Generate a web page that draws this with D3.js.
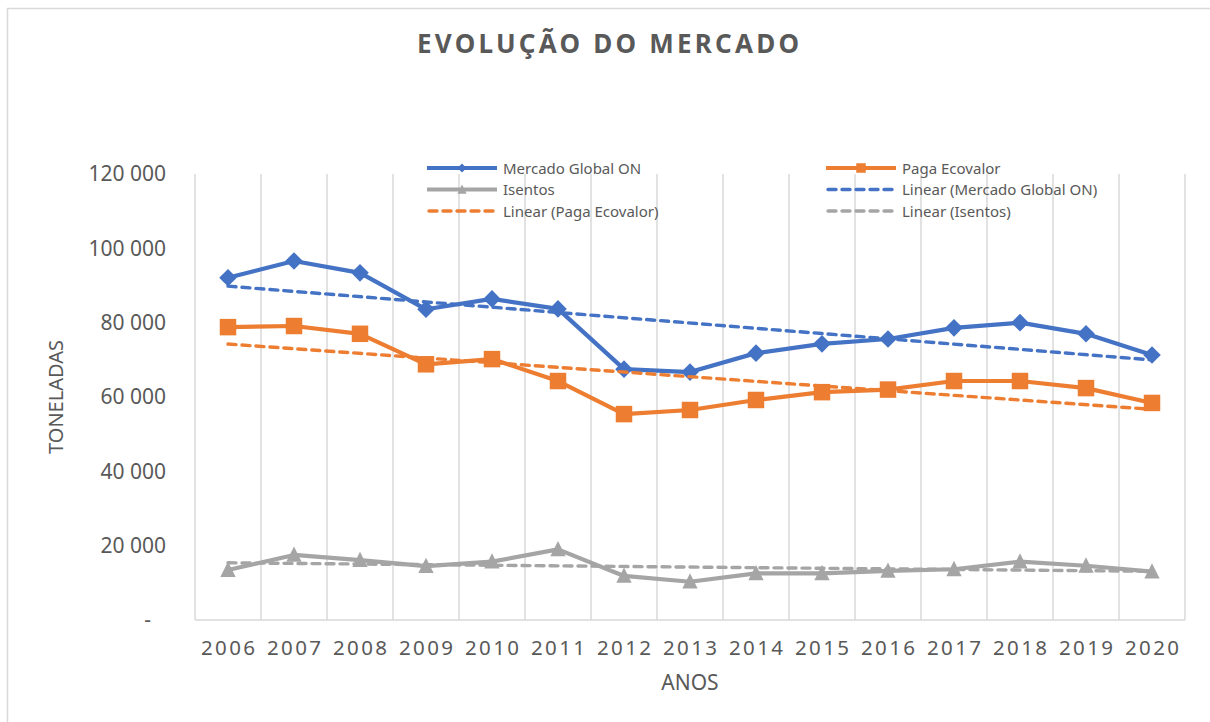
<!DOCTYPE html>
<html>
<head>
<meta charset="utf-8">
<script src="https://cdn.jsdelivr.net/npm/d3@7"></script>
<style>
  html, body { margin: 0; padding: 0; background: #fff; }
  svg { display: block; }
  text { font-family: "Noto Sans", "Open Sans", sans-serif; fill: #595959; }
</style>
</head>
<body>
<script>
// ---- data ----
const years = ["2006","2007","2008","2009","2010","2011","2012","2013","2014","2015","2016","2017","2018","2019","2020"];
const mercadoGlobal = [92100, 96600, 93400, 83600, 86400, 83700, 67500, 66700, 71800, 74300, 75600, 78600, 80000, 77000, 71300];
const pagaEcovalor  = [78800, 79100, 77000, 68800, 70200, 64300, 55400, 56500, 59200, 61300, 62000, 64300, 64300, 62400, 58400];
const isentos       = [13450, 17500, 16100, 14500, 15700, 19000, 11850, 10300, 12550, 12550, 13200, 13650, 15700, 14600, 13000];
const yTicks = [0, 20000, 40000, 60000, 80000, 100000, 120000];
const seriesNames = ["Mercado Global ON", "Paga Ecovalor", "Isentos"];
const titleText = "EVOLUÇÃO DO MERCADO";
const xTitle = "ANOS";
const yTitle = "TONELADAS";

// ---- layout ----
const W = 1210, H = 722;
const plot = { left: 195, right: 1185, top: 174, bottom: 620 };
const colors = ["#4472C4", "#ED7D31", "#A5A5A5"];

const svg = d3.select("body").append("svg").attr("width", W).attr("height", H);
svg.append("rect").attr("width", W).attr("height", H).attr("fill", "#fff");
svg.append("rect").attr("x", 7.5).attr("y", 8.5).attr("width", W).attr("height", H)
  .attr("fill", "none").attr("stroke", "#D9D9D9").attr("stroke-width", 1.5);

const x = d3.scaleBand().domain(years).range([plot.left, plot.right]).padding(0);
const cx = d => x(d) + x.bandwidth() / 2;
const y = d3.scaleLinear().domain([0, 120000]).range([plot.bottom, plot.top]);

// vertical gridlines at category boundaries
const bounds = years.map(d => x(d)).concat([plot.right]);
svg.append("g").selectAll("line").data(bounds).join("line")
  .attr("x1", d => d).attr("x2", d => d)
  .attr("y1", plot.top).attr("y2", plot.bottom)
  .attr("stroke", "#D9D9D9").attr("stroke-width", 1.5);
// category axis line
svg.append("line").attr("x1", plot.left).attr("x2", plot.right)
  .attr("y1", plot.bottom).attr("y2", plot.bottom)
  .attr("stroke", "#D9D9D9").attr("stroke-width", 1.5);

// y axis
const fmt = v => v === 0 ? "-" : d3.format(",")(v).replace(/,/g, " ");
const yAxis = svg.append("g").attr("transform", "translate(166,0)")
  .call(d3.axisLeft(y).tickValues(yTicks).tickSize(0).tickPadding(0).tickFormat(fmt));
yAxis.select(".domain").remove();
yAxis.selectAll("text").attr("font-size", 21).attr("fill", "#595959")
  .attr("font-family", "'Noto Sans', sans-serif")
  .attr("dx", d => d === 0 ? -15 : 0);

// x axis labels
const xAxis = svg.append("g").attr("transform", `translate(0,${plot.bottom})`)
  .call(d3.axisBottom(x).tickSize(0).tickPadding(0));
xAxis.select(".domain").remove();
xAxis.selectAll("text").attr("font-size", 20.5).attr("fill", "#595959")
  .attr("font-family", "'Noto Sans', sans-serif")
  .attr("dy", 0).attr("y", 35)
  .attr("textLength", 54).attr("lengthAdjust", "spacing");

// axis titles
svg.append("text").attr("x", (plot.left + plot.right) / 2).attr("y", 690)
  .attr("text-anchor", "middle").attr("font-size", 21).text(xTitle);
svg.append("text").attr("transform", `translate(63,${(plot.top + plot.bottom) / 2}) rotate(-90)`)
  .attr("text-anchor", "middle").attr("font-size", 20).text(yTitle);

// title
svg.append("text").attr("x", 608).attr("y", 53).attr("text-anchor", "middle")
  .attr("font-size", 26).attr("font-weight", 700)
  .attr("textLength", 382).attr("lengthAdjust", "spacing").text(titleText);

// markers
const triangleType = {
  draw(ctx, size) {
    const s = Math.sqrt(size);
    ctx.moveTo(0, -s * 0.55);
    ctx.lineTo(s / 2, s * 0.45);
    ctx.lineTo(-s / 2, s * 0.45);
    ctx.closePath();
  }
};
const markerDefs = [
  { type: d3.symbolSquare, size: 155, rotate: 45 },
  { type: d3.symbolSquare, size: 272, rotate: 0 },
  { type: triangleType, size: 235, rotate: 0 }
];
const legendMarkerDefs = [
  { type: d3.symbolSquare, size: 40, rotate: 45 },
  { type: d3.symbolSquare, size: 90, rotate: 0 },
  { type: triangleType, size: 85, rotate: 0 }
];

const allSeries = [mercadoGlobal, pagaEcovalor, isentos];
const line = d3.line().x((d, i) => cx(years[i])).y(d => y(d));

// series lines + markers
allSeries.forEach((vals, si) => {
  svg.append("path").datum(vals).attr("d", line)
    .attr("fill", "none").attr("stroke", colors[si]).attr("stroke-width", 4.2)
    .attr("stroke-linejoin", "round");
  const m = markerDefs[si];
  svg.append("g").selectAll("path").data(vals).join("path")
    .attr("transform", (d, i) => `translate(${cx(years[i])},${y(d)}) rotate(${m.rotate})`)
    .attr("d", d3.symbol(m.type, m.size)())
    .attr("fill", colors[si]);
});

// linear trendlines (least squares on the series values)
function trend(vals) {
  const n = vals.length;
  const xs = d3.range(n);
  const mx = d3.mean(xs), my = d3.mean(vals);
  const b = d3.sum(xs, i => (i - mx) * (vals[i] - my)) / d3.sum(xs, i => (i - mx) * (i - mx));
  const a = my - b * mx;
  return [[0, a], [n - 1, a + b * (n - 1)]];
}
allSeries.forEach((vals, si) => {
  const t = trend(vals);
  svg.append("line")
    .attr("x1", cx(years[t[0][0]])).attr("y1", y(t[0][1]))
    .attr("x2", cx(years[t[1][0]])).attr("y2", y(t[1][1]))
    .attr("stroke", colors[si]).attr("stroke-width", 3.4)
    .attr("stroke-dasharray", "8,6").attr("stroke-linecap", "round");
});

// legend
const legendItems = [
  { label: seriesNames[0], si: 0, dashed: false },
  { label: seriesNames[1], si: 1, dashed: false },
  { label: seriesNames[2], si: 2, dashed: false },
  { label: "Linear (" + seriesNames[0] + ")", si: 0, dashed: true },
  { label: "Linear (" + seriesNames[1] + ")", si: 1, dashed: true },
  { label: "Linear (" + seriesNames[2] + ")", si: 2, dashed: true }
];
const colX = [427, 826], rowY = [168, 189.5, 211];
legendItems.forEach((it, k) => {
  const lx = colX[k % 2], ly = rowY[Math.floor(k / 2)];
  const g = svg.append("g").attr("transform", `translate(${lx},${ly})`);
  g.append("line").attr("x1", it.dashed ? 2 : 0).attr("x2", it.dashed ? 68 : 70).attr("y1", 0).attr("y2", 0)
    .attr("stroke", colors[it.si]).attr("stroke-width", it.dashed ? 3.4 : 4.2)
    .attr("stroke-dasharray", it.dashed ? "8,6" : null)
    .attr("stroke-linecap", it.dashed ? "round" : "butt");
  if (!it.dashed) {
    const m = legendMarkerDefs[it.si];
    g.append("path").attr("transform", `translate(35,0) rotate(${m.rotate})`)
      .attr("d", d3.symbol(m.type, m.size)()).attr("fill", colors[it.si]);
  }
  g.append("text").attr("x", 76).attr("y", 5.5).attr("font-size", 15).text(it.label);
});
</script>
</body>
</html>
